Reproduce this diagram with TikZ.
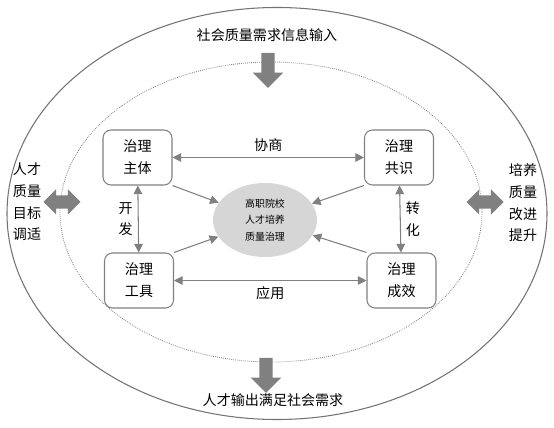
\documentclass[tikz,border=0pt]{standalone}
\usepackage{fontspec}
\setmainfont{Noto Sans CJK SC}
\usetikzlibrary{arrows.meta,positioning,shapes.geometric,shapes.arrows}

\begin{document}
\begin{tikzpicture}[
  x=0.03cm, y=-0.03cm,
  box/.style={draw=black!50,line width=0.9pt,rounded corners=0.24cm,minimum width=2.07cm,
              minimum height=1.65cm,align=center,font=\fontsize{12}{19}\selectfont},
  core/.style={ellipse,fill=black!16,minimum width=3.12cm,minimum height=2.22cm,
               align=center,font=\fontsize{8.5}{14}\selectfont},
  arr/.style={{Triangle[length=2.6mm,width=2.6mm]}-{Triangle[length=2.6mm,width=2.6mm]},
              draw=black!50,line width=0.9pt},
  toarr/.style={-{Triangle[length=2.6mm,width=2.6mm]},draw=black!50,line width=0.9pt},
  downarr/.style={single arrow,fill=black!50,inner sep=0.195cm,minimum width=0.9cm,
                  minimum height=1.05cm,single arrow head extend=0.255cm,shape border rotate=270},
  sidearr/.style={double arrow,fill=black!50,inner sep=0.195cm,minimum width=0.75cm,
                  minimum height=1.11cm,double arrow head extend=0.18cm},
  txt/.style={align=center,font=\fontsize{12}{18.5}\selectfont},
  lbl/.style={font=\fontsize{12}{18}\selectfont}
]
\useasboundingbox (0,0) rectangle (554,428);

% Outer and inner rings
\draw[black!55,line width=0.9pt] (277,213.5) ellipse [x radius=8.1cm, y radius=6.18cm];
\draw[black!50,densely dotted,line width=0.7pt] (271,212) ellipse [x radius=6.33cm, y radius=4.5cm];

% Governance elements
\node[box] (zt) at (137.5,157.5) {治理\\主体};
\node[box] (gs) at (399,157.5) {治理\\共识};
\node[box] (gj) at (139,280.5) {治理\\工具};
\node[box] (cx) at (401.5,280.5) {治理\\成效};
\node[core] (core) at (265,220) {高职院校\\人才培养\\质量治理};

% Connections
\draw[arr] (zt) -- node[lbl,above=1pt] {协商} (gs);
\draw[arr] (gj) -- node[lbl,below=1pt] {应用} (cx);
\draw[arr] (zt) -- node[txt,left=1pt] {开\\发} (gj);
\draw[arr] (gs) -- node[txt,right=1pt] {转\\化} (cx);
\draw[toarr] (zt.south east) -- (core);
\draw[toarr] (gj.north east) -- (core);
\draw[toarr] (gs.south west) -- (core);
\draw[toarr] (cx.north west) -- (core);

% Social input and output
\node[txt] (input) at (267,35) {社会质量需求信息输入};
\node[downarr] (inarr) at (268,67) {};
\node[downarr] (outarr) at (266,372) {};
\node[txt] (output) at (273,400) {人才输出满足社会需求};

% Side adjustment
\node[sidearr] (leftarr) at (62,202) {};
\node[txt] (goal) at (27,202) {人才\\质量\\目标\\调适};
\node[sidearr] (rightarr) at (485,202) {};
\node[txt] (improve) at (523,203) {培养\\质量\\改进\\提升};

\end{tikzpicture}
\end{document}
